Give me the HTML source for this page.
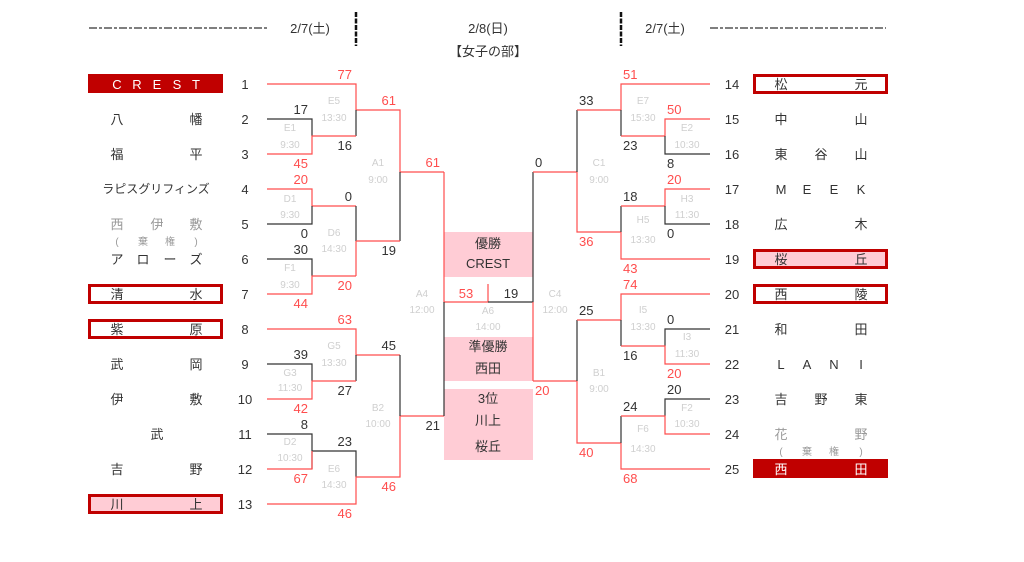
<!DOCTYPE html>
<html><head><meta charset="utf-8"><style>
html,body{margin:0;padding:0;background:#fff;}
svg{display:block;font-family:"Liberation Sans","Noto Sans CJK JP",sans-serif;}
.r{stroke:#ff4d4d;stroke-width:1.2;fill:none}
.k{stroke:#333;stroke-width:1.2;fill:none}
.sr{fill:#ff4d4d;font-size:13px}
.sk{fill:#333;font-size:13px}
.g{fill:#cfcfcf;font-size:10px;text-anchor:middle}
.n{fill:#333;font-size:13px;text-anchor:middle}
.nm{fill:#333;font-size:13px;text-anchor:middle}
</style></head><body>
<svg width="1024" height="562" viewBox="0 0 1024 562" xmlns="http://www.w3.org/2000/svg">
<!-- header -->
<line x1="89" y1="28" x2="267" y2="28" stroke="#333" stroke-width="1.2" stroke-dasharray="8,2,3,2"/>
<text x="310" y="33" class="nm" font-size="11">2/7(土)</text>
<line x1="356" y1="12" x2="356" y2="46" stroke="#111" stroke-width="2.5" stroke-dasharray="5,1.5"/>
<text x="488" y="33" class="nm" font-size="11">2/8(日)</text>
<text x="488" y="56" class="nm" font-size="12">【女子の部】</text>
<line x1="621" y1="12" x2="621" y2="46" stroke="#111" stroke-width="2.5" stroke-dasharray="5,1.5"/>
<text x="665" y="33" class="nm" font-size="11">2/7(土)</text>
<line x1="710" y1="28" x2="886" y2="28" stroke="#333" stroke-width="1.2" stroke-dasharray="8,2,3,2"/>

<!-- center boxes -->
<rect x="444" y="232" width="89" height="45" fill="#ffccd5"/>
<text x="488" y="248" class="nm" font-size="12">優勝</text>
<text x="488" y="268" class="nm" font-size="12">CREST</text>
<rect x="444" y="337" width="89" height="44" fill="#ffccd5"/>
<text x="488" y="351" class="nm" font-size="12">準優勝</text>
<text x="488" y="373" class="nm" font-size="12">西田</text>
<rect x="444" y="389" width="89" height="71" fill="#ffccd5"/>
<text x="488" y="403" class="nm" font-size="12">3位</text>
<text x="488" y="425" class="nm" font-size="12">川上</text>
<text x="488" y="451" class="nm" font-size="12">桜丘</text>

<!-- left bracket lines -->
<path class="r" d="M267 84H356V110M356 110H400V172H444"/>
<path class="k" d="M267 119H312V136M356 110V136"/>
<path class="r" d="M267 154H312V136H356"/>
<path class="k" d="M400 172V241"/>
<path class="r" d="M267 189H312V206H356"/>
<path class="k" d="M267 224H312V206M356 206V241"/>
<path class="r" d="M356 241V276M356 241H400"/>
<path class="k" d="M267 259H312V276"/>
<path class="r" d="M267 294H312V276H356"/>
<path class="r" d="M267 329H356V355H400"/>
<path class="k" d="M267 364H312V381M356 355V381"/>
<path class="r" d="M267 399H312V381H356"/>
<path class="k" d="M267 434H312V469M312 451H356V477"/>
<path class="r" d="M267 469H312V451"/>
<path class="r" d="M267 504H356V477H400V416H444"/>
<path class="k" d="M400 355V416"/>
<path class="r" d="M444 172V302H488V284"/>
<path class="k" d="M444 302V416M488 302H533V172"/>
<path class="r" d="M533 302V381"/>
<!-- right bracket lines -->
<path class="r" d="M533 172H577V232H621M533 381H577V443H621"/>
<path class="k" d="M577 110V172M577 320V381"/>
<path class="r" d="M577 110H621V84H710"/>
<path class="k" d="M621 110V136"/>
<path class="r" d="M621 136H665V119H710"/>
<path class="k" d="M665 136V154H710"/>
<path class="k" d="M621 206V232"/>
<path class="r" d="M621 232V259H710M621 206H665V189H710"/>
<path class="k" d="M665 206V224H710"/>
<path class="r" d="M577 320H621V294H710"/>
<path class="k" d="M621 320V346M665 346V329H710"/>
<path class="r" d="M621 346H665V364H710"/>
<path class="k" d="M621 416V443M665 416V399H710"/>
<path class="r" d="M621 443V469H710M621 416H665V434H710"/>

<!-- left scores -->
<g text-anchor="end">
<text x="352" y="79" class="sr">77</text>
<text x="308" y="114" class="sk">17</text>
<text x="308" y="168" class="sr">45</text>
<text x="352" y="150" class="sk">16</text>
<text x="396" y="105" class="sr">61</text>
<text x="308" y="184" class="sr">20</text>
<text x="352" y="201" class="sk">0</text>
<text x="308" y="238" class="sk">0</text>
<text x="308" y="254" class="sk">30</text>
<text x="308" y="308" class="sr">44</text>
<text x="352" y="290" class="sr">20</text>
<text x="396" y="255" class="sk">19</text>
<text x="440" y="167" class="sr">61</text>
<text x="352" y="324" class="sr">63</text>
<text x="308" y="359" class="sk">39</text>
<text x="308" y="413" class="sr">42</text>
<text x="352" y="395" class="sk">27</text>
<text x="396" y="350" class="sk">45</text>
<text x="308" y="429" class="sk">8</text>
<text x="308" y="483" class="sr">67</text>
<text x="352" y="446" class="sk">23</text>
<text x="352" y="518" class="sr">46</text>
<text x="396" y="491" class="sr">46</text>
<text x="440" y="430" class="sk">21</text>
</g>
<text x="466" y="298" class="sr" text-anchor="middle">53</text>
<text x="511" y="298" class="sk" text-anchor="middle">19</text>
<!-- right scores -->
<text x="535" y="167" class="sk">0</text>
<text x="535" y="395" class="sr">20</text>
<text x="579" y="105" class="sk">33</text>
<text x="579" y="246" class="sr">36</text>
<text x="623" y="79" class="sr">51</text>
<text x="623" y="150" class="sk">23</text>
<text x="667" y="114" class="sr">50</text>
<text x="667" y="168" class="sk">8</text>
<text x="623" y="201" class="sk">18</text>
<text x="623" y="273" class="sr">43</text>
<text x="667" y="184" class="sr">20</text>
<text x="667" y="238" class="sk">0</text>
<text x="579" y="315" class="sk">25</text>
<text x="579" y="457" class="sr">40</text>
<text x="623" y="289" class="sr">74</text>
<text x="623" y="360" class="sk">16</text>
<text x="667" y="324" class="sk">0</text>
<text x="667" y="378" class="sr">20</text>
<text x="623" y="411" class="sk">24</text>
<text x="623" y="483" class="sr">68</text>
<text x="667" y="394" class="sk">20</text>

<!-- game labels -->
<text x="334" y="104" class="g">E5</text><text x="334" y="121" class="g">13:30</text>
<text x="290" y="131" class="g">E1</text><text x="290" y="148" class="g">9:30</text>
<text x="378" y="166" class="g">A1</text><text x="378" y="183" class="g">9:00</text>
<text x="290" y="202" class="g">D1</text><text x="290" y="218" class="g">9:30</text>
<text x="334" y="236" class="g">D6</text><text x="334" y="252" class="g">14:30</text>
<text x="290" y="271" class="g">F1</text><text x="290" y="288" class="g">9:30</text>
<text x="422" y="297" class="g">A4</text><text x="422" y="313" class="g">12:00</text>
<text x="334" y="349" class="g">G5</text><text x="334" y="366" class="g">13:30</text>
<text x="290" y="376" class="g">G3</text><text x="290" y="391" class="g">11:30</text>
<text x="378" y="411" class="g">B2</text><text x="378" y="427" class="g">10:00</text>
<text x="290" y="445" class="g">D2</text><text x="290" y="461" class="g">10:30</text>
<text x="334" y="472" class="g">E6</text><text x="334" y="488" class="g">14:30</text>
<text x="488" y="314" class="g">A6</text><text x="488" y="330" class="g">14:00</text>
<text x="555" y="297" class="g">C4</text><text x="555" y="313" class="g">12:00</text>
<text x="599" y="166" class="g">C1</text><text x="599" y="183" class="g">9:00</text>
<text x="643" y="104" class="g">E7</text><text x="643" y="121" class="g">15:30</text>
<text x="687" y="131" class="g">E2</text><text x="687" y="148" class="g">10:30</text>
<text x="687" y="202" class="g">H3</text><text x="687" y="218" class="g">11:30</text>
<text x="643" y="223" class="g">H5</text><text x="643" y="243" class="g">13:30</text>
<text x="643" y="313" class="g">I5</text><text x="643" y="330" class="g">13:30</text>
<text x="687" y="340" class="g">I3</text><text x="687" y="357" class="g">11:30</text>
<text x="599" y="376" class="g">B1</text><text x="599" y="392" class="g">9:00</text>
<text x="687" y="411" class="g">F2</text><text x="687" y="427" class="g">10:30</text>
<text x="643" y="432" class="g">F6</text><text x="643" y="452" class="g">14:30</text>

<!-- team numbers -->
<g class="n">
<text x="245" y="89">1</text><text x="245" y="124">2</text><text x="245" y="159">3</text><text x="245" y="194">4</text><text x="245" y="229">5</text><text x="245" y="264">6</text><text x="245" y="299">7</text><text x="245" y="334">8</text><text x="245" y="369">9</text><text x="245" y="404">10</text><text x="245" y="439">11</text><text x="245" y="474">12</text><text x="245" y="509">13</text>
<text x="732" y="89">14</text><text x="732" y="124">15</text><text x="732" y="159">16</text><text x="732" y="194">17</text><text x="732" y="229">18</text><text x="732" y="264">19</text><text x="732" y="299">20</text><text x="732" y="334">21</text><text x="732" y="369">22</text><text x="732" y="404">23</text><text x="732" y="439">24</text><text x="732" y="474">25</text>
</g>

<!-- left team boxes -->
<rect x="88" y="74" width="135" height="19" fill="#c00000"/>
<rect x="89.5" y="285.5" width="132" height="17" fill="#fff" stroke="#c00000" stroke-width="3"/>
<rect x="89.5" y="320.5" width="132" height="17" fill="#fff" stroke="#c00000" stroke-width="3"/>
<rect x="89.5" y="495.5" width="132" height="17" fill="#ffccd5" stroke="#c00000" stroke-width="3"/>
<!-- right team boxes -->
<rect x="754.5" y="75.5" width="132" height="17" fill="#fff" stroke="#c00000" stroke-width="3"/>
<rect x="754.5" y="250.5" width="132" height="17" fill="#ffccd5" stroke="#c00000" stroke-width="3"/>
<rect x="754.5" y="285.5" width="132" height="17" fill="#fff" stroke="#c00000" stroke-width="3"/>
<rect x="753" y="459" width="135" height="19" fill="#c00000"/>

<!-- left names -->
<g class="nm">
<text x="117" y="89" style="fill:#fff">C</text><text x="137" y="89" style="fill:#fff">R</text><text x="157" y="89" style="fill:#fff">E</text><text x="177" y="89" style="fill:#fff">S</text><text x="196" y="89" style="fill:#fff">T</text>
<text x="117" y="124">八</text><text x="196" y="124">幡</text>
<text x="117" y="159">福</text><text x="196" y="159">平</text>
<text x="156" y="193" font-size="12">ラピスグリフィンズ</text>
<text x="117" y="229" style="fill:#999">西</text><text x="157" y="229" style="fill:#999">伊</text><text x="196" y="229" style="fill:#999">敷</text>
<text x="117" y="245" font-size="10" style="fill:#999">(</text><text x="143" y="245" font-size="10" style="fill:#999">棄</text><text x="170" y="245" font-size="10" style="fill:#999">権</text><text x="196" y="245" font-size="10" style="fill:#999">)</text>
<text x="117" y="264">ア</text><text x="143" y="264">ロ</text><text x="170" y="264">ー</text><text x="196" y="264">ズ</text>
<text x="117" y="299">清</text><text x="196" y="299">水</text>
<text x="117" y="334">紫</text><text x="196" y="334">原</text>
<text x="117" y="369">武</text><text x="196" y="369">岡</text>
<text x="117" y="404">伊</text><text x="196" y="404">敷</text>
<text x="157" y="439">武</text>
<text x="117" y="474">吉</text><text x="196" y="474">野</text>
<text x="117" y="509">川</text><text x="196" y="509">上</text>
</g>
<!-- right names -->
<g class="nm">
<text x="781" y="89">松</text><text x="861" y="89">元</text>
<text x="781" y="124">中</text><text x="861" y="124">山</text>
<text x="781" y="159">東</text><text x="821" y="159">谷</text><text x="861" y="159">山</text>
<text x="781" y="194">M</text><text x="807" y="194">E</text><text x="834" y="194">E</text><text x="861" y="194">K</text>
<text x="781" y="229">広</text><text x="861" y="229">木</text>
<text x="781" y="264">桜</text><text x="861" y="264">丘</text>
<text x="781" y="299">西</text><text x="861" y="299">陵</text>
<text x="781" y="334">和</text><text x="861" y="334">田</text>
<text x="781" y="369">L</text><text x="807" y="369">A</text><text x="834" y="369">N</text><text x="861" y="369">I</text>
<text x="781" y="404">吉</text><text x="821" y="404">野</text><text x="861" y="404">東</text>
<text x="781" y="439" style="fill:#999">花</text><text x="861" y="439" style="fill:#999">野</text>
<text x="781" y="455" font-size="10" style="fill:#999">(</text><text x="807" y="455" font-size="10" style="fill:#999">棄</text><text x="834" y="455" font-size="10" style="fill:#999">権</text><text x="861" y="455" font-size="10" style="fill:#999">)</text>
<text x="781" y="474" style="fill:#fff">西</text><text x="861" y="474" style="fill:#fff">田</text>
</g>
</svg>
</body></html>
